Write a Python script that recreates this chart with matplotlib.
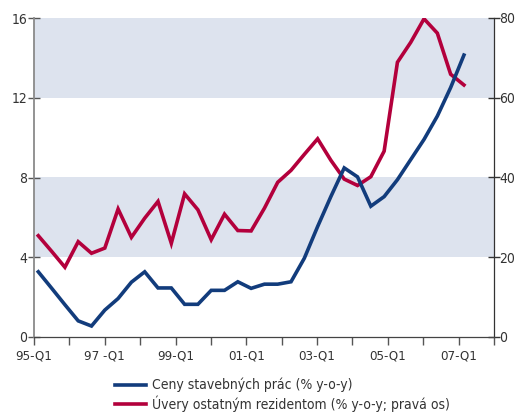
import numpy as np
import matplotlib
matplotlib.use("Agg")
import matplotlib.pyplot as plt
from matplotlib import font_manager as fm
from matplotlib.lines import Line2D

# prefer a narrow face; fall back to a regular one
_installed = {(f.name, f.stretch) for f in fm.fontManager.ttflist}
_names = {n for n, _ in _installed}
if "Liberation Sans Narrow" in _names:
    plt.rcParams["font.family"] = ["Liberation Sans Narrow", "DejaVu Sans"]
    FS = 11
elif ("DejaVu Sans", "condensed") in _installed:
    plt.rcParams["font.family"] = ["DejaVu Sans"]
    plt.rcParams["font.stretch"] = "condensed"
    FS = 9.5
else:
    plt.rcParams["font.family"] = ["Liberation Sans", "DejaVu Sans"]
    FS = 9.5

# quarterly observations, 1995-Q1 onwards
ceny = [3.27, 2.45, 1.62, 0.81, 0.55, 1.35, 1.93, 2.75, 3.27, 2.46, 2.46,
        1.64, 1.64, 2.34, 2.34, 2.77, 2.44, 2.65, 2.65, 2.77, 3.95, 5.54,
        7.05, 8.48, 8.03, 6.56, 7.04, 7.89, 8.90, 9.91, 11.08, 12.51, 14.14]
uvery = [25.4, 21.5, 17.5, 23.9, 21.0, 22.3, 32.1, 25.0, 29.8, 34.0, 23.5,
         35.9, 31.9, 24.4, 30.8, 26.7, 26.6, 32.3, 38.8, 41.8, 45.8, 49.7,
         44.3, 39.6, 38.0, 40.2, 46.6, 68.9, 73.9, 79.8, 76.2, 65.9, 63.2]

x_labels = ["95-Q1", "", "97 -Q1", "", "99-Q1", "", "01-Q1", "", "03-Q1", "",
            "05-Q1", "", "07-Q1", ""]
left_ticks = [0, 4, 8, 12, 16]
right_ticks = [0, 20, 40, 60, 80]
bands = [(4, 8), (12, 16)]
legend_labels = ["Ceny stavebných prác (% y-o-y)",
                 "Úvery ostatným rezidentom (% y-o-y; pravá os)"]

blue = "#123c7c"
red = "#b3003c"
band_color = "#dde3ee"
text_color = "#333333"

fig = plt.figure(figsize=(5.17, 4.13), dpi=100)
ax = fig.add_axes([34 / 517, 1 - 337 / 413, 460 / 517, 319 / 413])
ax2 = ax.twinx()

idx = np.arange(len(ceny))
x0, x1 = -0.323, 34.26

# shading and the right-axis series sit underneath, the left series on top
for lo, hi in bands:
    ax2.axhspan(lo * 5, hi * 5, color=band_color, lw=0, zorder=0)
ax2.plot(idx, uvery, color=red, lw=2.6, solid_joinstyle="miter", zorder=2)
ax.plot(idx, ceny, color=blue, lw=2.6, solid_joinstyle="miter", zorder=3)
ax.set_zorder(ax2.get_zorder() + 1)
ax.patch.set_visible(False)

ax.set_xlim(x0, x1)
ax.set_ylim(0, 16)
ax2.set_ylim(0, 80)

ax.set_xticks(np.linspace(x0, x1, len(x_labels)))
ax.set_xticklabels(x_labels)
ax.set_yticks(left_ticks)
ax2.set_yticks(right_ticks)

for a in (ax, ax2):
    a.spines["top"].set_visible(False)
ax.spines["right"].set_visible(False)
ax.spines["left"].set_color("#8a8a8a")
ax.spines["left"].set_linewidth(1.3)
ax.spines["bottom"].set_color("#444444")
ax.spines["bottom"].set_linewidth(0.9)
ax2.spines["left"].set_visible(False)
ax2.spines["bottom"].set_visible(False)
ax2.spines["right"].set_color("#333333")
ax2.spines["right"].set_linewidth(0.9)

ax.tick_params(axis="y", direction="inout", length=8, width=1, color="#555555",
               labelsize=FS + 0.5, labelcolor=text_color, pad=1)
ax.tick_params(axis="x", direction="out", length=6, width=1, color="#555555",
               labelsize=FS, labelcolor=text_color, pad=3)
ax2.tick_params(axis="y", direction="inout", length=8, width=1, color="#333333",
                labelsize=FS + 0.5, labelcolor=text_color, pad=0)

handles = [Line2D([], [], color=blue, lw=2.6), Line2D([], [], color=red, lw=2.6)]
fig.legend(handles, legend_labels, loc="upper left",
           bbox_to_anchor=(108 / 517, 1 - 371 / 413), frameon=False,
           fontsize=FS + 0.5, handlelength=2.2, handletextpad=0.45,
           labelspacing=0.2, borderpad=0, labelcolor=text_color)

fig.savefig("out.png", dpi=100)
